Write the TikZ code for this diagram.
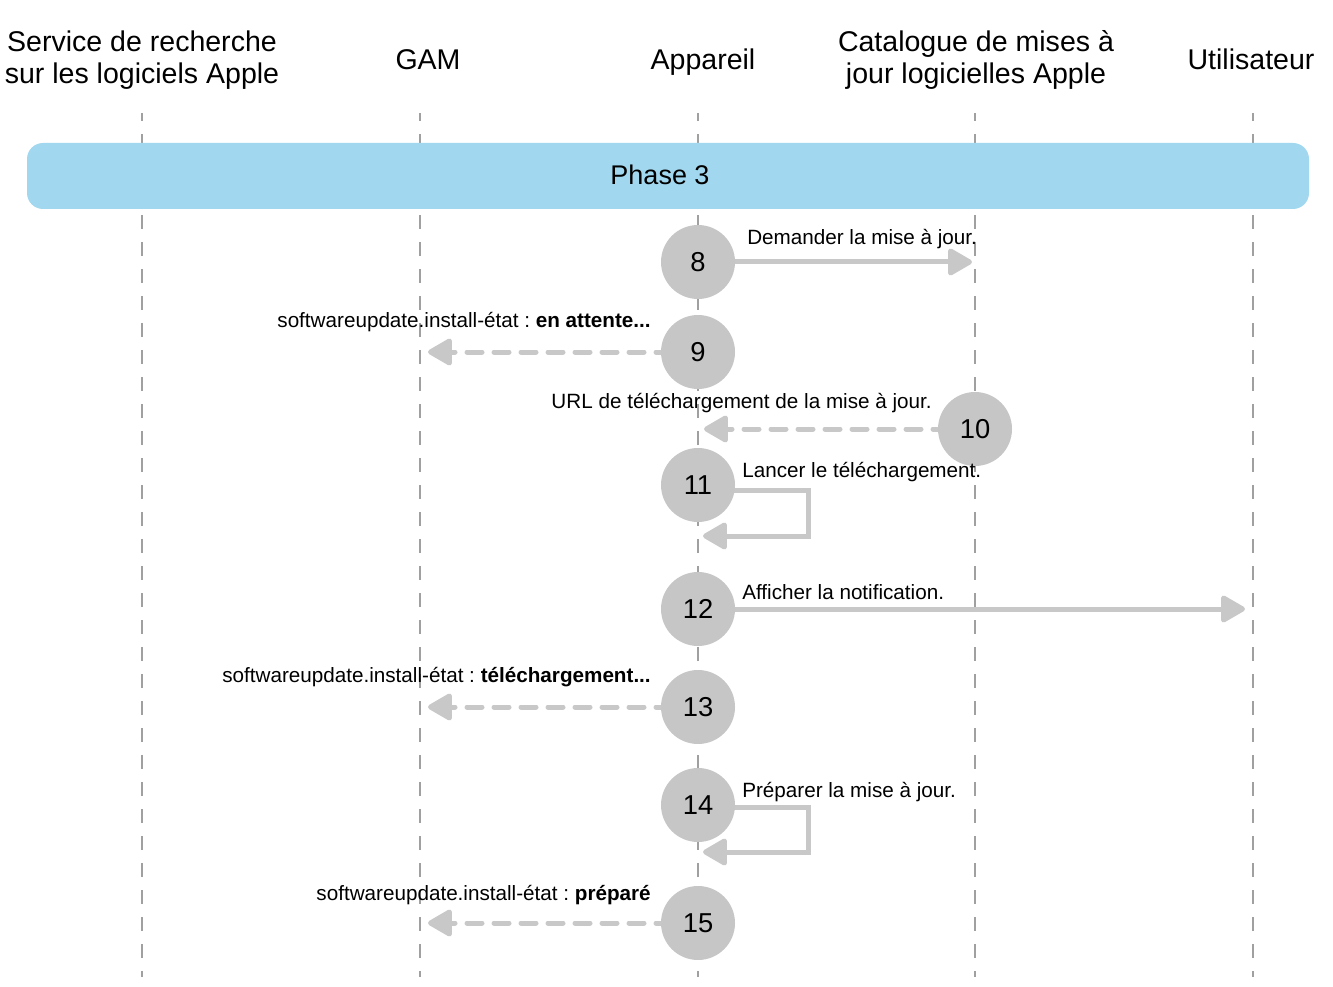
\documentclass[tikz,border=0pt]{standalone}
\usepackage{fontspec}
\setmainfont{Liberation Sans}
\usetikzlibrary{arrows.meta}
\definecolor{bandblue}{RGB}{162,216,239}
\definecolor{circgray}{RGB}{198,198,198}
\definecolor{arrgray}{RGB}{200,200,200}
\definecolor{lifegray}{RGB}{160,160,160}
\tikzset{
  lifeline/.style={draw=lifegray, line width=1.125pt, dash pattern=on 10.5pt off 9.75pt, dash phase=4.5pt},
  msg/.style={draw=arrgray, line width=3.75pt, -{Triangle[length=20pt,width=22pt,round]}},
  reply/.style={msg, line cap=round, dash pattern=on 11.25pt off 9pt},
  stepc/.style={circle, fill=circgray, minimum size=55.5pt, inner sep=0pt, font=\fontsize{20.5pt}{24pt}\selectfont},
  hdr/.style={anchor=base, font=\fontsize{21.4pt}{24pt}\selectfont},
  lbl/.style={font=\fontsize{15.5pt}{18pt}\selectfont, inner sep=0pt},
}
\begin{document}
\begin{tikzpicture}[x=0.75pt, y=-0.75pt]
\useasboundingbox (0,0) rectangle (1333,987);
% headers
\node[hdr] (h1a) at (142,52) {Service de recherche};
\node[hdr] (h1b) at (142,84) {sur les logiciels Apple};
\node[hdr] (h2) at (428,70) {GAM};
\node[hdr] (h3) at (703,70) {Appareil};
\node[hdr] (h4a) at (976,52) {Catalogue de mises à};
\node[hdr] (h4b) at (976,84) {jour logicielles Apple};
\node[hdr] (h5) at (1251,70) {Utilisateur};
% lifelines
\foreach \x/\n in {142/a,420/b,698/c,975/d,1253/e}{
  \coordinate (top\n) at (\x,113);
  \coordinate (bot\n) at (\x,977);
  \draw[lifeline] (top\n) -- (bot\n);
}
% phase band
\draw[fill=bandblue, draw=none, rounded corners=12pt] (27,143) rectangle (1309,209);
\node[anchor=base, font=\fontsize{20.25pt}{24pt}\selectfont] (phase) at (660,185) {Phase 3};
% circles positions
\coordinate (p8) at (698,262);
\coordinate (p9) at (698,352);
\coordinate (p10) at (975,429);
\coordinate (p11) at (698,485);
\coordinate (p12) at (698,609);
\coordinate (p13) at (698,707);
\coordinate (p14) at (698,805);
\coordinate (p15) at (698,923);
% endpoints
\coordinate (e8) at (972,262);
\coordinate (e9) at (428,352);
\coordinate (e10) at (704,429);
\coordinate (l11a) at (808,490);
\coordinate (l11b) at (808,536);
\coordinate (e11) at (703,536);
\coordinate (e12) at (1245,609);
\coordinate (e13) at (428,707);
\coordinate (l14a) at (808,807);
\coordinate (l14b) at (808,852);
\coordinate (e14) at (703,852);
\coordinate (e15) at (428,923);
% connectors
\draw[msg] (p8) -- (e8);
\draw[reply] (p9) -- (e9);
\draw[reply] (p10) -- (e10);
\draw[msg] (p11 |- l11a) -- (l11a) -- (l11b) -- (e11);
\draw[msg] (p12) -- (e12);
\draw[reply] (p13) -- (e13);
\draw[msg] (p14 |- l14a) -- (l14a) -- (l14b) -- (e14);
\draw[reply] (p15) -- (e15);
% circles
\foreach \n in {8,...,15}{
  \node[stepc] (c\n) at (p\n) {\n};
}
% labels
\node[lbl, anchor=base west] (t8) at (747,245) {Demander la mise à jour.};
\node[lbl, anchor=base east] (t9) at (651,327) {softwareupdate.install-état :\ \textbf{en attente...}};
\node[lbl, anchor=base east] (t10) at (932,408) {URL de téléchargement de la mise à jour.};
\node[lbl, anchor=base west] (t11) at (742,477) {Lancer le téléchargement.};
\node[lbl, anchor=base west] (t12) at (742,599) {Afficher la notification.};
\node[lbl, anchor=base east] (t13) at (651,682) {softwareupdate.install-état :\ \textbf{téléchargement...}};
\node[lbl, anchor=base west] (t14) at (742,797) {Préparer la mise à jour.};
\node[lbl, anchor=base east] (t15) at (651,900) {softwareupdate.install-état :\ \textbf{préparé}};
\end{tikzpicture}
\end{document}
